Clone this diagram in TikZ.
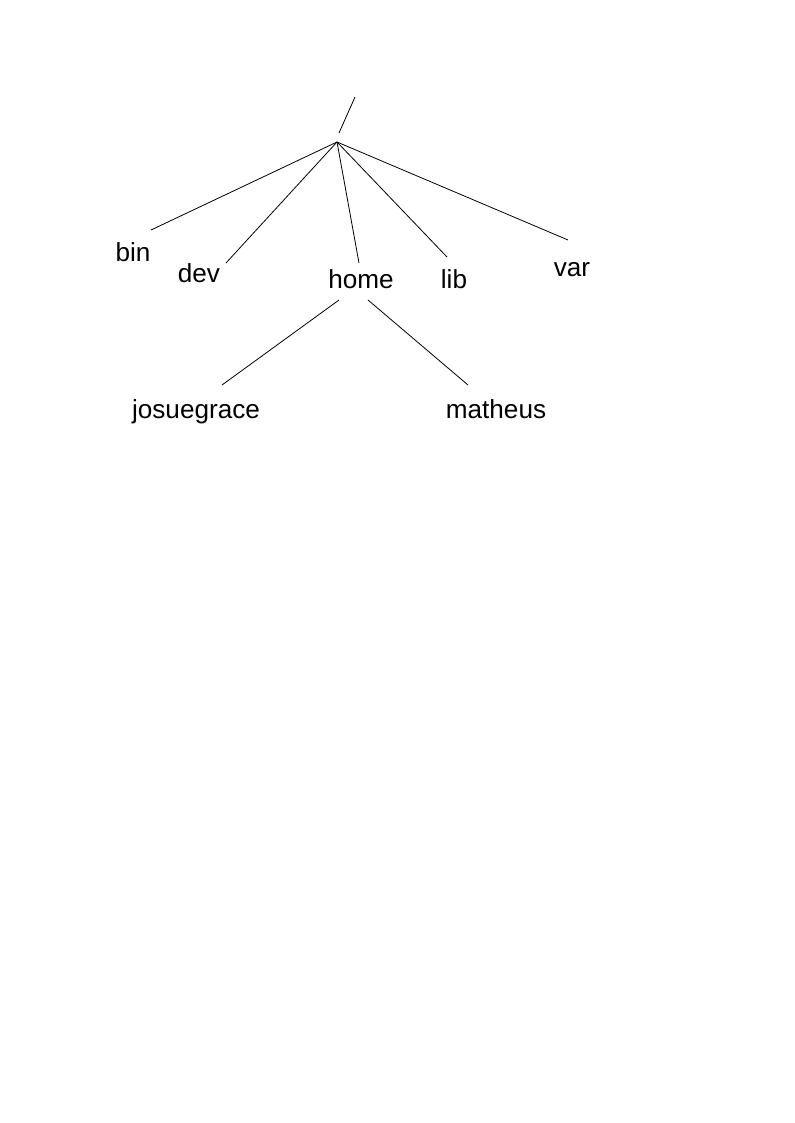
\documentclass[tikz,border=0pt]{standalone}
\usepackage{fontspec}
\setmainfont{Liberation Sans}
\usetikzlibrary{positioning}

\begin{document}
\begin{tikzpicture}[x=0.75pt,y=-0.75pt,line width=0.6pt,
                    dir/.style={anchor=base,inner sep=0pt,
                                font=\fontsize{19.6}{23}\selectfont}]

  \useasboundingbox (0,0) rectangle (794,1123);

  \coordinate (slash top) at (355,97);
  \coordinate (slash bot) at (339,133);
  \coordinate (root)      at (337,142);

  \node[dir] (bin)        at (133,262) {bin};
  \node[dir] (dev)        at (199,282) {dev};
  \node[dir] (home)       at (361,288) {home};
  \node[dir] (lib)        at (454,288) {lib};
  \node[dir] (var)        at (572,276) {var};
  \node[dir] (josuegrace) at (196,418) {josuegrace};
  \node[dir] (matheus)    at (496,418) {matheus};

  \coordinate (bin end)   at (151,230);
  \coordinate (dev end)   at (226,263);
  \coordinate (home end)  at (359,263);
  \coordinate (lib end)   at (447,257);
  \coordinate (var end)   at (568,240);
  \coordinate (home left) at (339,300);
  \coordinate (home right)at (368,300);
  \coordinate (jos end)   at (222,385);
  \coordinate (mat end)   at (468,385);

  \draw (slash top) -- (slash bot);

  \path[draw] (root)       edge (bin end)
                           edge (dev end)
                           edge (home end)
                           edge (lib end)
                           edge (var end)
              (home left)  edge (jos end)
              (home right) edge (mat end);
\end{tikzpicture}
\end{document}
